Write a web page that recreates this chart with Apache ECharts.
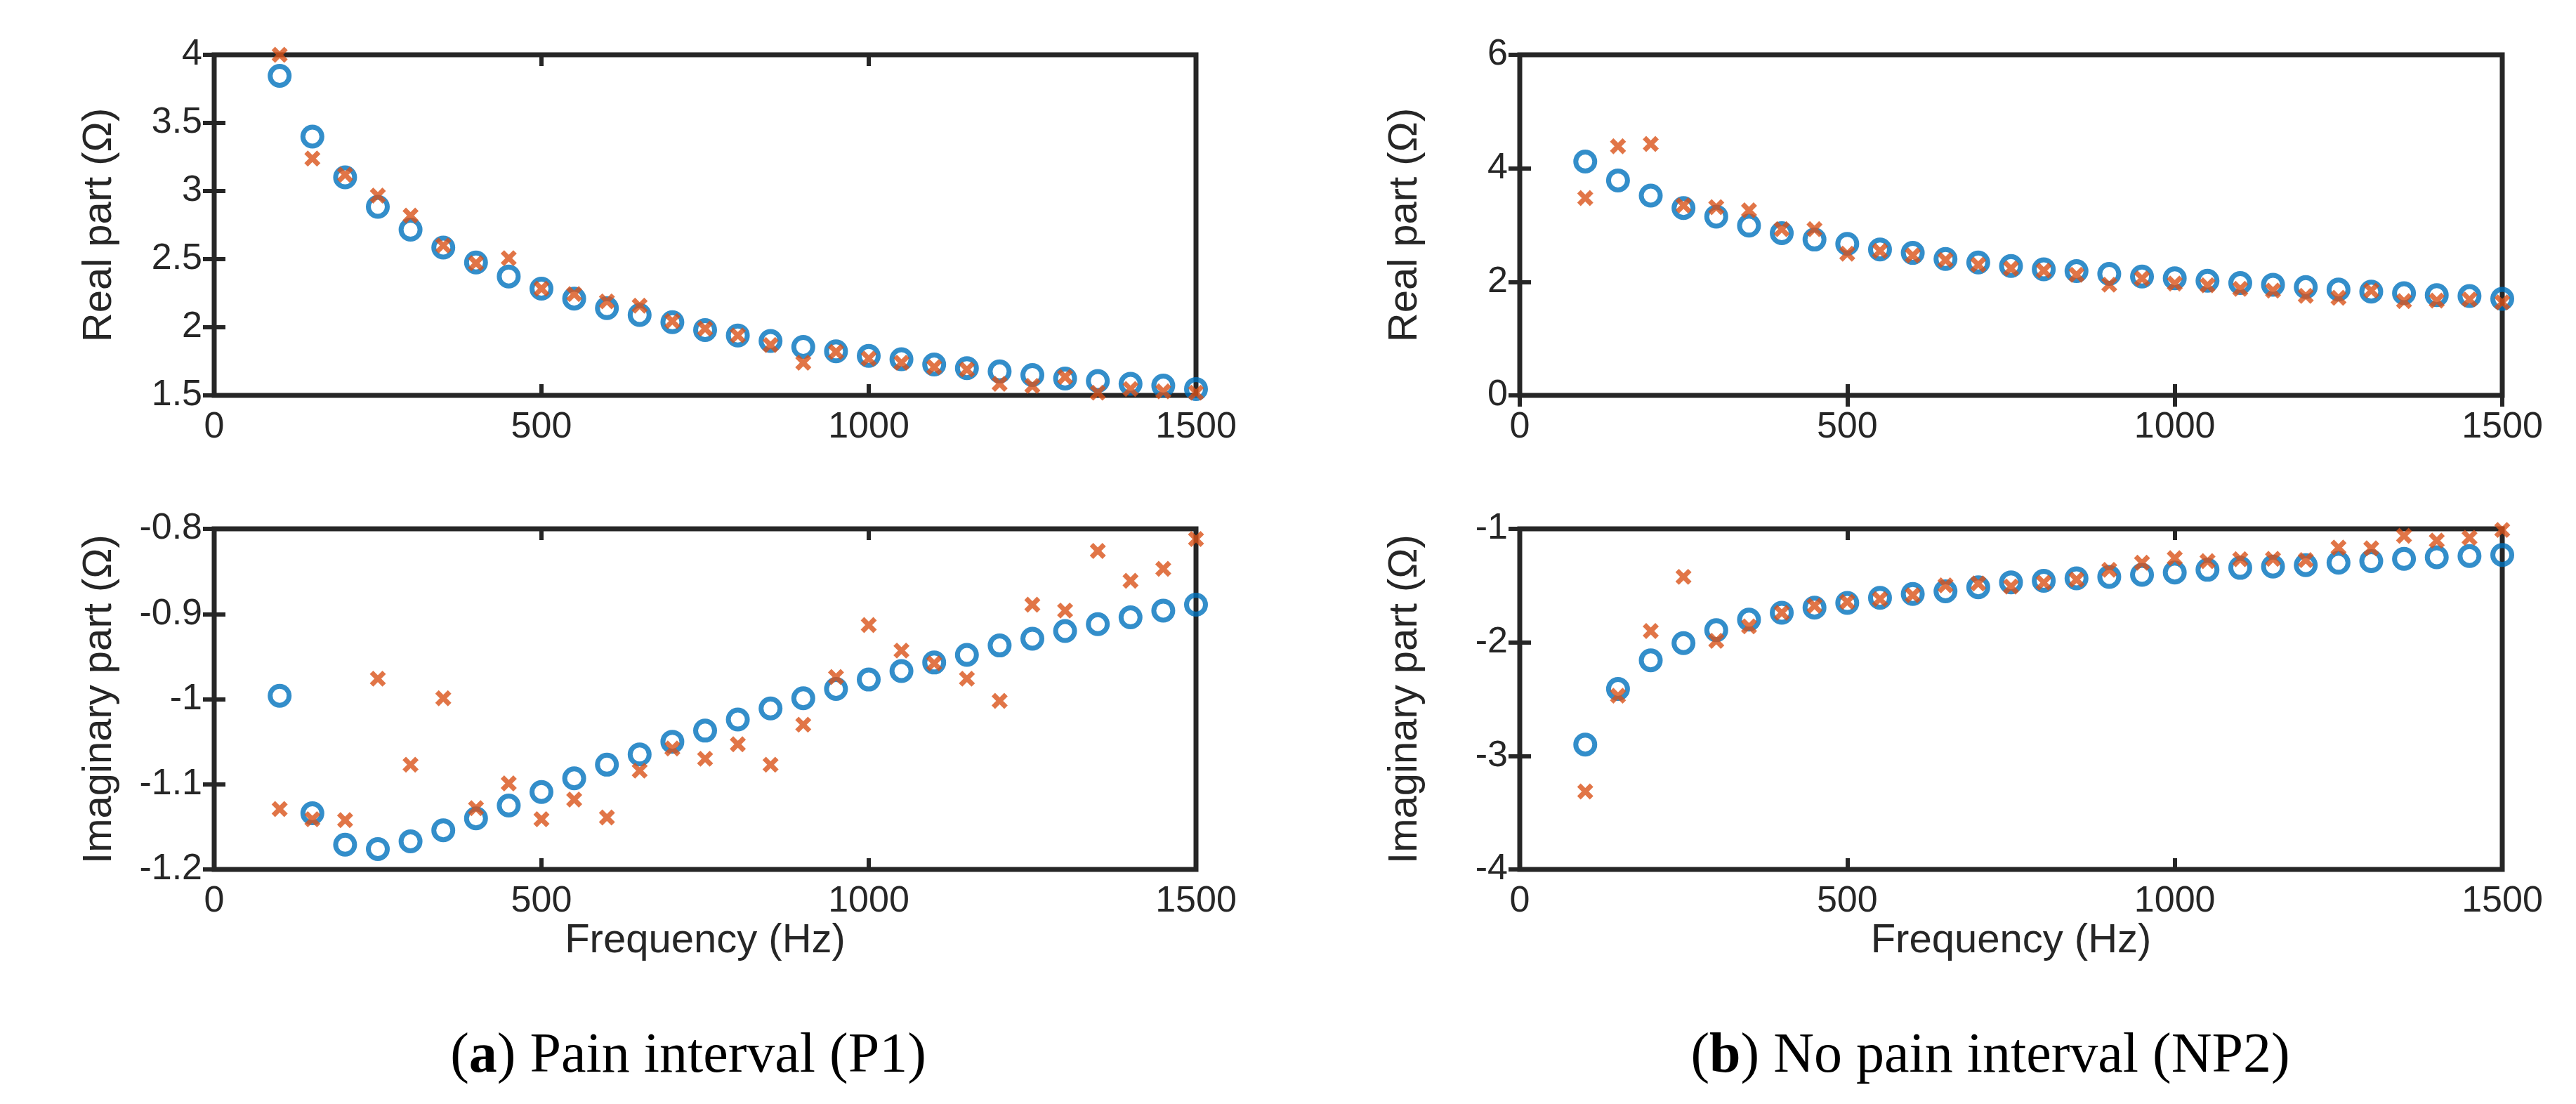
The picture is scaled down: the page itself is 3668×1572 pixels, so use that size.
<!DOCTYPE html>
<html>
<head>
<meta charset="utf-8">
<script src="https://cdn.jsdelivr.net/npm/echarts@6/dist/echarts.min.js"></script>
<style>
  html, body { margin: 0; padding: 0; background: #fff; }
  #main { width: 3668px; height: 1572px; }
</style>
</head>
<body>
<div id="main"></div>
<script>
// frequencies (Hz)
let freq = [100, 150, 200, 250, 300, 350, 400, 450, 500, 550, 600, 650, 700, 750, 800,
    850, 900, 950, 1000, 1050, 1100, 1150, 1200, 1250, 1300, 1350, 1400, 1450, 1500];

// (a) Pain interval (P1)
let p1RealFit = [3.845, 3.40, 3.10, 2.884, 2.716, 2.585, 2.476, 2.373, 2.283, 2.21, 2.14, 2.09, 2.037, 1.98, 1.94,
    1.90, 1.856, 1.823, 1.79, 1.766, 1.727, 1.70, 1.676, 1.65, 1.624, 1.606, 1.585, 1.572, 1.547];
let p1RealMeas = [4.0, 3.238, 3.12, 2.967, 2.82, 2.60, 2.47, 2.507, 2.283, 2.244, 2.19, 2.158, 2.045, 1.99, 1.94,
    1.87, 1.74, 1.82, 1.77, 1.74, 1.707, 1.69, 1.585, 1.57, 1.635, 1.52, 1.547, 1.53, 1.52];
let p1ImagFit = [-0.996, -1.134, -1.171, -1.176, -1.167, -1.154, -1.140, -1.125, -1.109, -1.093, -1.077, -1.065, -1.050, -1.037, -1.024,
    -1.011, -0.999, -0.988, -0.977, -0.967, -0.957, -0.948, -0.937, -0.929, -0.920, -0.912, -0.904, -0.896, -0.889];
let p1ImagMeas = [-1.129, -1.141, -1.142, -0.976, -1.077, -0.999, -1.128, -1.099, -1.141, -1.118, -1.139, -1.084, -1.058, -1.070, -1.053,
    -1.077, -1.030, -0.974, -0.913, -0.943, -0.958, -0.976, -1.002, -0.889, -0.896, -0.826, -0.861, -0.847, -0.812];

// (b) No pain interval (NP2)
let np2RealFit = [4.12, 3.787, 3.52, 3.30, 3.15, 2.99, 2.857, 2.745, 2.67, 2.57, 2.51, 2.404, 2.342, 2.28, 2.22,
    2.19, 2.14, 2.094, 2.063, 2.02, 1.98, 1.95, 1.908, 1.865, 1.828, 1.80, 1.766, 1.75, 1.70];
let np2RealMeas = [3.477, 4.388, 4.43, 3.347, 3.316, 3.26, 2.93, 2.93, 2.497, 2.545, 2.465, 2.385, 2.30, 2.237, 2.20,
    2.125, 1.95, 2.06, 1.97, 1.94, 1.878, 1.847, 1.754, 1.72, 1.847, 1.66, 1.67, 1.69, 1.64];
let np2ImagFit = [-2.90, -2.41, -2.158, -2.007, -1.893, -1.80, -1.739, -1.694, -1.653, -1.608, -1.574, -1.55, -1.515, -1.471, -1.457,
    -1.436, -1.423, -1.405, -1.385, -1.361, -1.344, -1.333, -1.32, -1.299, -1.285, -1.265, -1.25, -1.24, -1.23];
let np2ImagMeas = [-3.313, -2.47, -1.90, -1.423, -1.986, -1.859, -1.739, -1.677, -1.643, -1.619, -1.584, -1.498, -1.481, -1.509, -1.474,
    -1.447, -1.361, -1.299, -1.258, -1.285, -1.268, -1.265, -1.275, -1.165, -1.172, -1.062, -1.103, -1.079, -1.01];

// axis ranges [min, max, interval]
let xRange = [0, 1500, 500];
let p1RealRange = [1.5, 4, 0.5];
let p1ImagRange = [-1.2, -0.8, 0.1];
let np2RealRange = [0, 6, 2];
let np2ImagRange = [-4, -1, 1];

let realTitle = 'Real part (Ω)';
let imagTitle = 'Imaginary part (Ω)';
let xTitle = 'Frequency (Hz)';

const INK = '#262626';
const BLUE = '#0072BD';
const RED = '#D95319';
const SANS = 'Liberation Sans';

let panels = [
    { grid: { left: 305, top: 78, width: 1398, height: 485 }, y: p1RealRange, name: realTitle, fit: p1RealFit, meas: p1RealMeas, xname: false },
    { grid: { left: 305, top: 753, width: 1398, height: 485 }, y: p1ImagRange, name: imagTitle, fit: p1ImagFit, meas: p1ImagMeas, xname: true },
    { grid: { left: 2164, top: 78, width: 1399, height: 485 }, y: np2RealRange, name: realTitle, fit: np2RealFit, meas: np2RealMeas, xname: false },
    { grid: { left: 2164, top: 753, width: 1399, height: 485 }, y: np2ImagRange, name: imagTitle, fit: np2ImagFit, meas: np2ImagMeas, xname: true }
];

// plain numbers, no thousands separator
let plain = v => String(+v.toFixed(3));

let tickStyle = { show: true, inside: true, length: 16, lineStyle: { color: INK, width: 6 } };
let labelStyle = { color: INK, fontFamily: SANS, fontSize: 52, formatter: plain };

let grids = [], xAxes = [], yAxes = [], series = [];

panels.forEach((p, i) => {
    grids.push(Object.assign({ show: true, borderColor: INK, borderWidth: 7, backgroundColor: '#fff' }, p.grid));

    // bottom + top x axes
    xAxes.push({
        type: 'value', gridIndex: i, position: 'bottom',
        min: xRange[0], max: xRange[1], interval: xRange[2],
        axisLine: { show: false }, splitLine: { show: false },
        axisTick: tickStyle,
        axisLabel: Object.assign({ margin: 20 }, labelStyle),
        name: p.xname ? xTitle : '', nameLocation: 'middle', nameGap: 62,
        nameTextStyle: { color: INK, fontFamily: SANS, fontSize: 58 }
    });
    xAxes.push({
        type: 'value', gridIndex: i, position: 'top',
        min: xRange[0], max: xRange[1], interval: xRange[2],
        axisLine: { show: false }, splitLine: { show: false },
        axisTick: tickStyle, axisLabel: { show: false }
    });

    // left + right y axes
    yAxes.push({
        type: 'value', gridIndex: i, position: 'left',
        min: p.y[0], max: p.y[1], interval: p.y[2],
        axisLine: { show: false }, splitLine: { show: false },
        axisTick: tickStyle,
        axisLabel: Object.assign({ margin: 17 }, labelStyle),
        name: p.name, nameLocation: 'middle', nameGap: 134,
        nameTextStyle: { color: INK, fontFamily: SANS, fontSize: 58 }
    });
    yAxes.push({
        type: 'value', gridIndex: i, position: 'right',
        min: p.y[0], max: p.y[1], interval: p.y[2],
        axisLine: { show: false }, splitLine: { show: false },
        axisTick: tickStyle, axisLabel: { show: false }
    });

    series.push({
        name: 'Fitted', type: 'scatter', xAxisIndex: 2 * i, yAxisIndex: 2 * i,
        clip: false, symbol: 'circle', symbolSize: 27,
        itemStyle: { color: 'transparent', borderColor: BLUE, borderWidth: 7 },
        data: freq.map((f, k) => [f, p.fit[k]])
    });
    series.push({
        name: 'Measured', type: 'scatter', xAxisIndex: 2 * i, yAxisIndex: 2 * i,
        clip: false, symbol: 'path://M0,0L10,10M10,0L0,10', symbolSize: 18,
        itemStyle: { color: 'transparent', borderColor: RED, borderWidth: 7 },
        data: freq.map((f, k) => [f, p.meas[k]])
    });
});

let captionStyle = {
    fontFamily: 'Liberation Serif', fontSize: 80, fontWeight: 'normal', color: '#000',
    rich: { b: { fontFamily: 'Liberation Serif', fontSize: 80, fontWeight: 'bold', color: '#000' } }
};

let option = {
    animation: false,
    backgroundColor: '#fff',
    title: [
        { text: '({b|a}) Pain interval (P1)', left: 975, top: 1460, textAlign: 'center', textStyle: captionStyle },
        { text: '({b|b}) No pain interval (NP2)', left: 2829, top: 1460, textAlign: 'center', textStyle: captionStyle }
    ],
    grid: grids,
    xAxis: xAxes,
    yAxis: yAxes,
    series: series
};

let chart = echarts.init(document.getElementById('main'));
chart.setOption(option);
</script>
</body>
</html>
